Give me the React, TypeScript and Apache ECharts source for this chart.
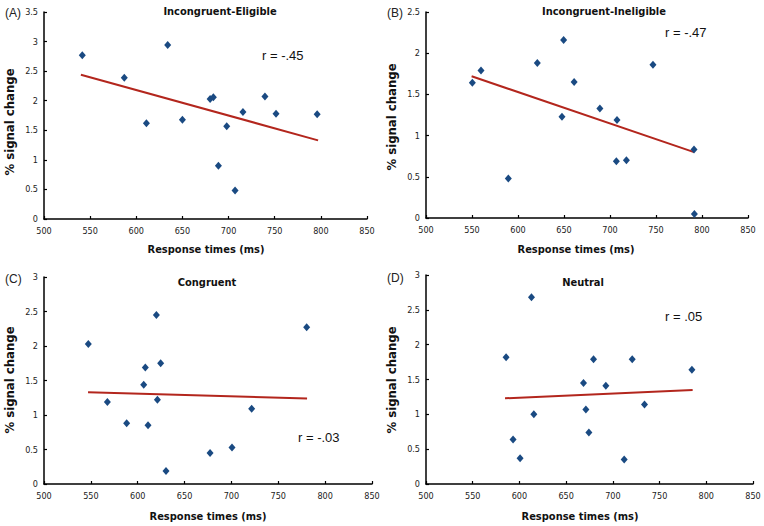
import React, { useEffect, useRef } from "react";
import * as echarts from "echarts";

// Panel A: Incongruent-Eligible
const aRT = [541.5, 587, 611, 634, 650, 680, 683.5, 689, 698, 707, 715.6, 739.4, 751.4, 796];
const aSig = [2.77, 2.39, 1.62, 2.94, 1.68, 2.03, 2.06, 0.9, 1.57, 0.48, 1.81, 2.07, 1.78, 1.77];
const aTrend = [[540, 2.44], [797, 1.33]];
// Panel B: Incongruent-Ineligible
const bRT = [550.4, 559.8, 589.5, 621, 647.8, 649.6, 661, 689, 706.9, 707.6, 717.8, 746.7, 791.3, 791.7];
const bSig = [1.64, 1.79, 0.48, 1.88, 1.23, 2.16, 1.65, 1.33, 0.69, 1.19, 0.7, 1.86, 0.83, 0.05];
const bTrend = [[549.6, 1.72], [791.3, 0.8]];
// Panel C: Congruent
const cRT = [547.3, 567.6, 588.2, 606.4, 608.1, 611, 619.9, 621, 624.5, 630.2, 677.2, 700.6, 721.6, 780.3];
const cSig = [2.03, 1.19, 0.88, 1.44, 1.69, 0.85, 2.45, 1.22, 1.75, 0.19, 0.45, 0.53, 1.09, 2.27];
const cTrend = [[547, 1.33], [780.7, 1.24]];
// Panel D: Neutral
const dRT = [585.7, 593.2, 600.7, 612.9, 615.4, 668.6, 671.1, 674.3, 679.3, 692.5, 712.1, 720.7, 733.9, 784.6];
const dSig = [1.82, 0.64, 0.37, 2.68, 1.0, 1.45, 1.07, 0.74, 1.79, 1.41, 0.35, 1.79, 1.14, 1.64];
const dTrend = [[584.6, 1.23], [785.4, 1.35]];

const titles = ["Incongruent-Eligible", "Incongruent-Ineligible", "Congruent", "Neutral"];
const panelLabels = ["(A)", "(B)", "(C)", "(D)"];
const rLabels = ["r = -.45", "r = -.47", "r = -.03", "r = .05"];
const yMaxes = [3.5, 2.5, 3, 3];
const xTitle = "Response times (ms)";
const yTitle = "% signal change";

const panels = [
  { rt: aRT, sig: aSig, trend: aTrend },
  { rt: bRT, sig: bSig, trend: bTrend },
  { rt: cRT, sig: cSig, trend: cTrend },
  { rt: dRT, sig: dSig, trend: dTrend },
];

const grids = [
  { left: 44, top: 12, width: 323, height: 207 },
  { left: 426, top: 12, width: 322, height: 206 },
  { left: 44, top: 277, width: 328, height: 207 },
  { left: 426, top: 275, width: 327, height: 209 },
];

const titlePos = [[220, 11], [604, 11], [207, 282], [583, 282]];
const rPos = [[262, 55], [665, 32], [298, 437], [665, 316]];
const labelPos = [[5, 13], [387, 13], [5, 279], [387, 278]];
const xTitlePos = [[206, 249], [576, 249], [208, 516], [580, 516]];
const yTitlePos = [[9.5, 122], [391.5, 117], [9.5, 380], [391.5, 380]];

const tickFont = "'DejaVu Sans Condensed', 'DejaVu Sans', sans-serif";

export default function App() {
  const ref = useRef<HTMLDivElement>(null);
  useEffect(() => {
    if (!ref.current) return;
    const chart = echarts.init(ref.current, null, { renderer: "svg" });
    const axisLine = { lineStyle: { color: "#000", width: 1.5 } };
    const axisTick = { inside: true, length: 3, lineStyle: { color: "#000", width: 1.2 } };
    const axisLabel = { color: "#222", fontSize: 9, fontFamily: tickFont };
    const graphics: any[] = [];
    panels.forEach((_, i) => {
      graphics.push({
        type: "text", x: titlePos[i][0], y: titlePos[i][1],
        style: { text: titles[i], fill: "#111", font: "bold 11px " + tickFont, textAlign: "center", textVerticalAlign: "middle" },
      });
      graphics.push({
        type: "text", x: rPos[i][0], y: rPos[i][1],
        style: { text: rLabels[i], fill: "#111", font: "13px 'Liberation Sans', Arial, sans-serif", textAlign: "left", textVerticalAlign: "middle" },
      });
      graphics.push({
        type: "text", x: labelPos[i][0], y: labelPos[i][1],
        style: { text: panelLabels[i], fill: "#222", font: "12px 'Liberation Sans', Arial, sans-serif", textAlign: "left", textVerticalAlign: "middle" },
      });
      graphics.push({
        type: "text", x: xTitlePos[i][0], y: xTitlePos[i][1],
        style: { text: xTitle, fill: "#111", font: "bold 11px " + tickFont, textAlign: "center", textVerticalAlign: "middle" },
      });
      graphics.push({
        type: "text", x: yTitlePos[i][0], y: yTitlePos[i][1], rotation: Math.PI / 2,
        style: { text: yTitle, fill: "#111", font: "bold 13px " + tickFont, textAlign: "center", textVerticalAlign: "middle" },
      });
    });
    chart.setOption({
      animation: false,
      backgroundColor: "#fff",
      grid: grids.map((g) => ({ ...g, containLabel: false })),
      xAxis: panels.map((_, i) => ({
        type: "value", gridIndex: i, min: 500, max: 850, interval: 50,
        axisLine, axisTick, axisLabel: { ...axisLabel, margin: 7 }, splitLine: { show: false },
      })),
      yAxis: panels.map((_, i) => ({
        type: "value", gridIndex: i, min: 0, max: yMaxes[i], interval: 0.5,
        axisLine: { ...axisLine, show: true }, axisTick: { ...axisTick, show: true }, axisLabel: { ...axisLabel, margin: 6 }, splitLine: { show: false },
      })),
      series: panels.flatMap((p, i) => [
        {
          type: "line", xAxisIndex: i, yAxisIndex: i, data: p.trend, showSymbol: false, symbol: "none",
          lineStyle: { color: "#b3261d", width: 2 }, z: 2,
        },
        {
          type: "scatter", xAxisIndex: i, yAxisIndex: i, data: p.rt.map((x, k) => [x, p.sig[k]]),
          symbol: "diamond", symbolSize: [7, 8], itemStyle: { color: "#1a4a82", opacity: 1 }, z: 3,
        },
      ]),
      graphic: graphics,
    });
    return () => chart.dispose();
  }, []);
  return <div ref={ref} style={{ position: "fixed", left: 0, top: 0, width: 764, height: 526 }} />;
}
